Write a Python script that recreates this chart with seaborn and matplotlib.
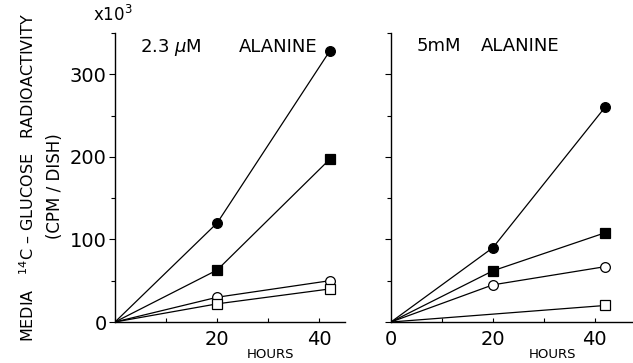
import matplotlib
matplotlib.use("Agg")
import matplotlib.pyplot as plt
import seaborn as sns
import pandas as pd

sns.set_theme(style="ticks")
plt.rcParams['font.family'] = ['DejaVu Sans']
plt.rcParams['text.color'] = 'black'
plt.rcParams['xtick.color'] = 'black'
plt.rcParams['ytick.color'] = 'black'
plt.rcParams['axes.edgecolor'] = 'black'

hours = [0, 20, 42]
hours_short = [0, 42]

# left panel: 2.3 uM alanine (x10^3 cpm/dish)
low_filled_circle = [0, 120, 328]
low_filled_square = [0, 63, 197]
low_open_circle = [0, 30, 50]
low_open_square = [0, 22, 40]

# right panel: 5 mM alanine
high_filled_circle = [0, 90, 260]
high_filled_square = [0, 62, 108]
high_open_circle = [0, 45, 67]
high_open_square = [0, 20]

y_ticks = [0, 100, 200, 300]
x_ticks = [0, 20, 40]

fig = plt.figure(figsize=(6.33, 3.63), dpi=100)
axL = fig.add_axes([115/633, 41/363, 230/633, 289/363])
axR = fig.add_axes([391/633, 41/363, 242/633, 289/363])

styles = [("o", "black"), ("s", "black"), ("o", "white"), ("s", "white")]

def draw(ax, series):
    for (x, y), (m, fc) in zip(series, styles):
        df = pd.DataFrame({"h": x, "v": y})
        sns.lineplot(data=df, x="h", y="v", ax=ax, color="black", lw=0.9,
                     marker=m, markersize=7 if m == "o" else 6.5,
                     markerfacecolor=fc, markeredgecolor="black",
                     markeredgewidth=0.9, markevery=list(range(1, len(x))),
                     legend=False, estimator=None, sort=False)

draw(axL, [(hours, low_filled_circle), (hours, low_filled_square),
           (hours, low_open_circle), (hours, low_open_square)])
draw(axR, [(hours, high_filled_circle), (hours, high_filled_square),
           (hours, high_open_circle), (hours_short, high_open_square)])

for ax in (axL, axR):
    ax.set_xlim(0, 45)
    ax.set_ylim(0, 348)
    sns.despine(ax=ax)
    ax.spines['left'].set_linewidth(1.0)
    ax.spines['bottom'].set_linewidth(1.0)
    ax.set_xlabel("")
    ax.set_ylabel("")
    ax.set_yticks(y_ticks)
    ax.set_yticks([50, 150, 250, 350], minor=True)
    ax.set_xticks(x_ticks)
    ax.set_xticks([10, 30], minor=True)
    ax.tick_params(axis='y', which='major', direction='out', length=4, width=0.8, labelsize=14, pad=2)
    ax.tick_params(axis='y', which='minor', direction='out', length=3, width=0.8)
    ax.tick_params(axis='x', which='both', direction='in', length=3, width=0.8, labelsize=14, pad=6)

axL.set_xticklabels(["", "20", "40"])
axR.set_xticklabels(["0", "20", "40"])
axR.set_yticklabels([])
axR.set_xlim(0, 47.5)

fig.text(140/633, 1 - 47/363, "2.3 $\\mu$M", fontsize=13, va="center", ha="left")
fig.text(239/633, 1 - 47/363, "ALANINE", fontsize=13, va="center", ha="left")
fig.text(417/633, 1 - 46/363, "5mM", fontsize=13, va="center", ha="left")
fig.text(481/633, 1 - 46/363, "ALANINE", fontsize=13, va="center", ha="left")

fig.text(270/633, 1 - 354/363, "HOURS", fontsize=9.5, ha="center", va="center")
fig.text(552/633, 1 - 354/363, "HOURS", fontsize=9.5, ha="center", va="center")
fig.text(113/633, 1 - 15/363, "x10$^3$", fontsize=12, ha="center", va="center")

fig.text(28/633, 1 - 177/363, "MEDIA   $^{14}$C – GLUCOSE   RADIOACTIVITY",
         rotation=90, fontsize=11.5, ha="center", va="center")
fig.text(55/633, 1 - 186/363, "(CPM / DISH)", rotation=90, fontsize=12,
         ha="center", va="center")

fig.savefig("out.png", dpi=100)
